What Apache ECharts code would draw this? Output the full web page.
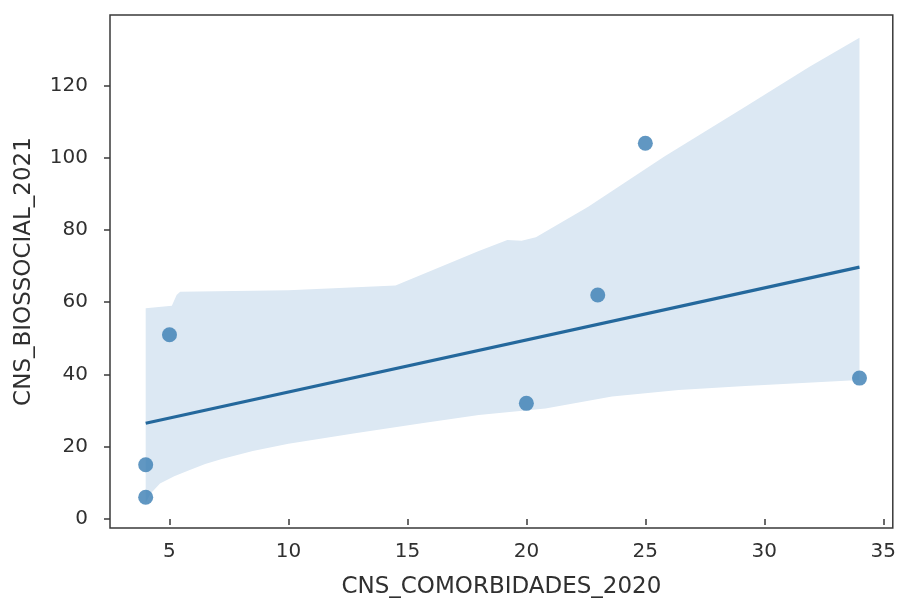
<!DOCTYPE html>
<html>
<head>
<meta charset="utf-8">
<script src="https://cdn.jsdelivr.net/npm/echarts@6/dist/echarts.min.js"></script>
<style>
  html, body { margin: 0; padding: 0; background: #ffffff; }
  #chart { width: 899px; height: 605px; }
</style>
</head>
<body>
<div id="chart"></div>
<script>
// Observed pairs: comorbidity count (2020) vs biosocial count (2021)
const comorbidades2020 = [4, 4, 5, 20, 23, 25, 34];
const biossocial2021 = [15, 6, 51, 32, 62, 104, 39];

// Fitted regression line, endpoints at the data extremes
const fitLine = [[4, 26.5], [34, 69.7]];

// Bootstrap confidence band: upper and lower edges
const ciUpper = [
  [4, 58.3], [5.1, 59.0], [5.3, 62.0], [5.45, 62.9], [10, 63.3], [14.5, 64.6],
  [18, 74.2], [19.2, 77.2], [19.8, 77.0], [20.4, 78.0], [22.6, 86.4],
  [25.8, 100.3], [29.2, 114.1], [31.9, 125.2], [34, 133.2]
];
const ciLower = [
  [4, 4.5], [4.2, 7.0], [4.6, 9.8], [5.2, 11.8], [5.8, 13.4], [6.5, 15.2],
  [7.2, 16.6], [8.5, 18.8], [10, 20.8], [12.8, 23.7], [15.6, 26.5],
  [18, 28.8], [20.8, 30.6], [23.6, 33.9], [26.4, 35.7], [29.2, 36.8], [34, 38.5]
];

const xTicks = [5, 10, 15, 20, 25, 30, 35];
const yTicks = [0, 20, 40, 60, 80, 100, 120];

const FONT = 'DejaVu Sans';
const TEXT = '#303030';

const scatterData = comorbidades2020.map((x, i) => [x, biossocial2021[i]]);

const chart = echarts.init(document.getElementById('chart'), null, { renderer: 'canvas' });

chart.setOption({
  animation: false,
  backgroundColor: '#ffffff',
  grid: {
    left: 110, right: 3, top: 15, bottom: 77,
    show: true, borderColor: '#3a3a3a', borderWidth: 1.5,
    backgroundColor: 'transparent'
  },
  xAxis: {
    type: 'value',
    min: 2.5, max: 35.4,
    name: 'CNS_COMORBIDADES_2020',
    nameLocation: 'middle',
    nameGap: 48,
    nameTextStyle: { fontFamily: FONT, fontSize: 23, color: TEXT },
    axisLine: { show: false },
    splitLine: { show: false },
    axisTick: {
      show: true, length: 6, inside: false,
      lineStyle: { color: '#3a3a3a', width: 1.5 },
      customValues: xTicks
    },
    axisLabel: {
      fontFamily: FONT, fontSize: 20, color: TEXT, margin: 14,
      customValues: xTicks
    }
  },
  yAxis: {
    type: 'value',
    min: -2.5, max: 139.5,
    name: 'CNS_BIOSSOCIAL_2021',
    nameLocation: 'middle',
    nameGap: 74,
    nameRotate: 90,
    nameTextStyle: { fontFamily: FONT, fontSize: 23, color: TEXT },
    axisLine: { show: false },
    splitLine: { show: false },
    axisTick: {
      show: true, length: 6, inside: false,
      lineStyle: { color: '#3a3a3a', width: 1.5 },
      customValues: yTicks
    },
    axisLabel: {
      fontFamily: FONT, fontSize: 20, color: TEXT, margin: 22,
      customValues: yTicks
    }
  },
  series: [
    {
      // confidence band polygon
      type: 'custom',
      z: 1,
      silent: true,
      data: ciUpper,
      encode: { x: 0, y: 1 },
      renderItem: function (params, api) {
        if (params.dataIndex !== 0) return null;
        const pts = ciUpper.map(p => api.coord(p))
          .concat(ciLower.slice().reverse().map(p => api.coord(p)));
        return {
          type: 'polygon',
          shape: { points: pts },
          style: { fill: '#dce8f3' }
        };
      }
    },
    {
      type: 'line',
      z: 2,
      data: fitLine,
      showSymbol: false,
      lineStyle: { color: '#24689c', width: 3.2 },
      silent: true
    },
    {
      type: 'scatter',
      z: 3,
      data: scatterData,
      symbol: 'circle',
      symbolSize: 15,
      itemStyle: { color: '#3a7db3' },
      silent: true
    }
  ]
});
</script>
</body>
</html>
